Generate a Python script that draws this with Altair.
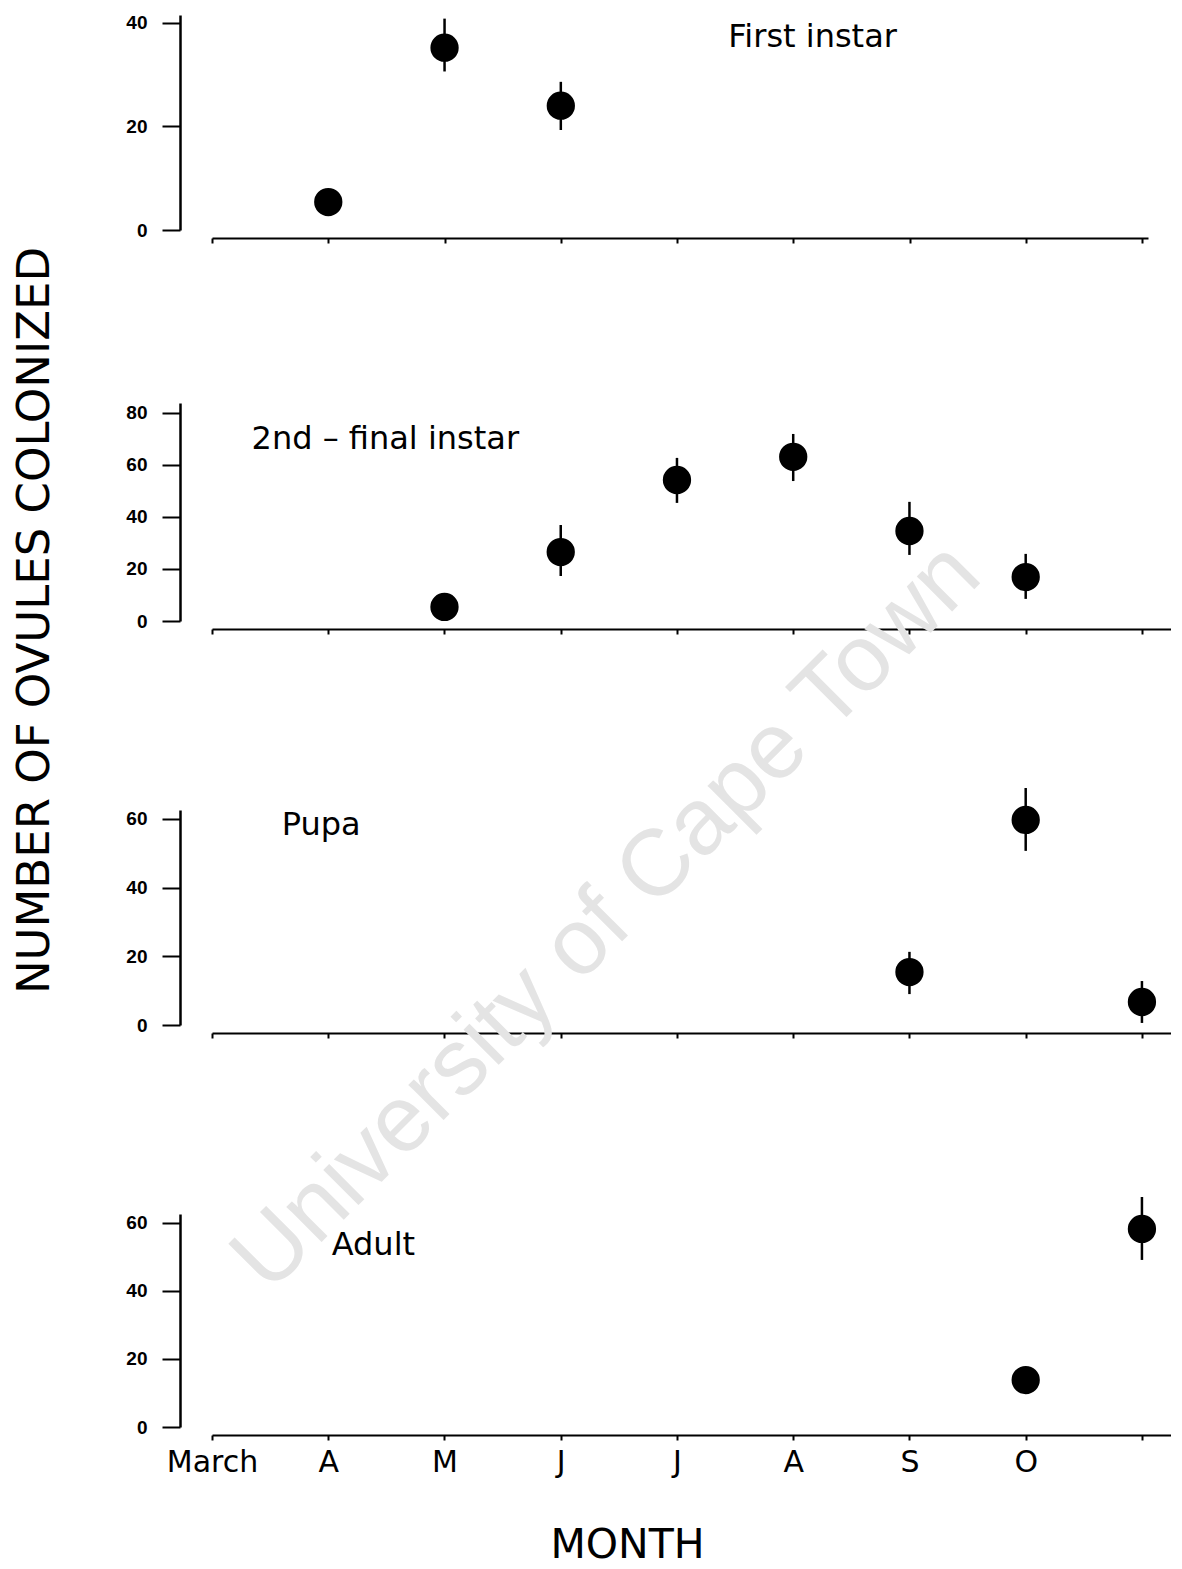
import json
import altair as alt
import pandas as pd

# ---------------- data ----------------
month_labels = ["March", "A", "M", "J", "J", "A", "S", "O", ""]
month_index = list(range(9))

# First instar
p1_month = [1, 2, 3]
p1_mean = [5.4, 35.2, 24.0]
p1_lo = [5.4, 30.6, 19.3]
p1_hi = [5.4, 40.8, 28.6]

# 2nd - final instar
p2_month = [2, 3, 4, 5, 6, 7]
p2_mean = [5.4, 26.5, 54.2, 63.1, 34.6, 16.9]
p2_lo = [5.4, 17.3, 45.4, 53.8, 25.4, 8.5]
p2_hi = [5.4, 36.9, 62.7, 71.9, 45.8, 25.8]

# Pupa
p3_month = [6, 7, 8]
p3_mean = [15.4, 59.7, 6.7]
p3_lo = [9.0, 50.7, 0.6]
p3_hi = [21.3, 69.0, 12.8]

# Adult
p4_month = [7, 8]
p4_mean = [13.8, 58.2]
p4_lo = [13.8, 49.1]
p4_hi = [13.8, 67.6]

panel_names = ["First instar", "2nd \u2013 final instar", "Pupa", "Adult"]
panel_name_x = [4.44, 0.34, 0.60, 1.03]
panel_name_y = [37.3, 70.0, 58.3, 53.5]

y_ticks = [[0, 20, 40], [0, 20, 40, 60, 80], [0, 20, 40, 60], [0, 20, 40, 60]]
y_max = [41.5, 83.8, 62.6, 62.6]
heights = [215, 218, 215, 213]
x_max = [8.05, 8.25, 8.25, 8.25]
widths = [936, 959, 959, 959]

y_title = "NUMBER OF OVULES COLONIZED"
x_title = "MONTH"
watermark = "University of Cape Town"

label_expr = json.dumps(month_labels) + "[datum.value]"


def make_panel(i, months, mean, lo, hi, show_x_labels=False, show_y_title=False):
    df = pd.DataFrame({"m": months, "mean": mean, "lo": lo, "hi": hi})
    lab = pd.DataFrame({"lx": [panel_name_x[i]], "ly": [panel_name_y[i]], "t": [panel_names[i]]})

    xaxis_kw = dict(
        values=month_index, offset=8, tickSize=5, tickWidth=2, tickColor="black",
        domainColor="black", domainWidth=2, grid=False,
        labels=show_x_labels, labelFlush=False,
        labelExpr=label_expr, labelFont="DejaVu Sans", labelFontSize=30,
        labelColor="black", labelPadding=7,
    )
    if show_x_labels:
        xaxis_kw.update(title=x_title, titleFont="DejaVu Sans", titleFontSize=41,
                        titleFontWeight="normal", titleColor="black", titlePadding=48,
                        titleX=415, titleAlign="center")
    else:
        xaxis_kw.update(title=None)
    yaxis_kw = dict(
        values=y_ticks[i], offset=32, tickSize=18, tickWidth=2, tickColor="black",
        domainColor="black", domainWidth=2.5, grid=False, labelFlush=False,
        labelFont="Liberation Sans", labelFontWeight="bold", labelFontSize=19,
        labelColor="black", labelPadding=15,
    )
    if show_y_title:
        yaxis_kw.update(title=y_title, titleFont="DejaVu Sans", titleFontSize=45,
                        titleFontWeight="normal", titleColor="black", titlePadding=68,
                        titleY=217)
    else:
        yaxis_kw.update(title=None)

    xs = alt.Scale(domain=[0, x_max[i]], nice=False, zero=False)
    ys = alt.Scale(domain=[0, y_max[i]], nice=False, zero=False)

    def X(field):
        return alt.X(field, type="quantitative", scale=xs, axis=alt.Axis(**xaxis_kw))

    def Y(field):
        return alt.Y(field, type="quantitative", scale=ys, axis=alt.Axis(**yaxis_kw))

    bars = alt.Chart(df).mark_rule(color="black", strokeWidth=2.5).encode(
        x=X("m"), y=Y("lo"), y2="hi"
    )
    pts = alt.Chart(df).mark_circle(color="black", opacity=1, size=800).encode(
        x=X("m"), y=Y("mean")
    )
    txt = alt.Chart(lab).mark_text(
        align="left", baseline="middle", font="DejaVu Sans", fontSize=32, color="black"
    ).encode(x=X("lx"), y=Y("ly"), text="t:N")
    layers = [bars, pts, txt]
    return alt.layer(*layers).properties(width=widths[i], height=heights[i])


p1 = make_panel(0, p1_month, p1_mean, p1_lo, p1_hi)
p2 = make_panel(1, p2_month, p2_mean, p2_lo, p2_hi, show_y_title=True)
p3 = make_panel(2, p3_month, p3_mean, p3_lo, p3_hi)
wm = alt.Chart(pd.DataFrame({"w": [watermark]})).mark_text(
    align="center", baseline="middle", angle=315, font="Liberation Sans",
    fontSize=94, color="#e4e4e4"
).encode(x=alt.value(395), y=alt.value(107), text="w:N")
p3 = alt.layer(wm, p3)
p4 = make_panel(3, p4_month, p4_mean, p4_lo, p4_hi, show_x_labels=True)

inner = alt.vconcat(p2, p3, p4, spacing=189, bounds="flush")
chart = alt.vconcat(p1, inner, spacing=173, bounds="flush").properties(
    padding={"left": 4, "top": 5, "right": 0, "bottom": 12},
    background="white",
).configure_view(stroke="transparent", strokeWidth=0)

chart.save("out.html", embed_options={"renderer": "svg", "actions": False})
